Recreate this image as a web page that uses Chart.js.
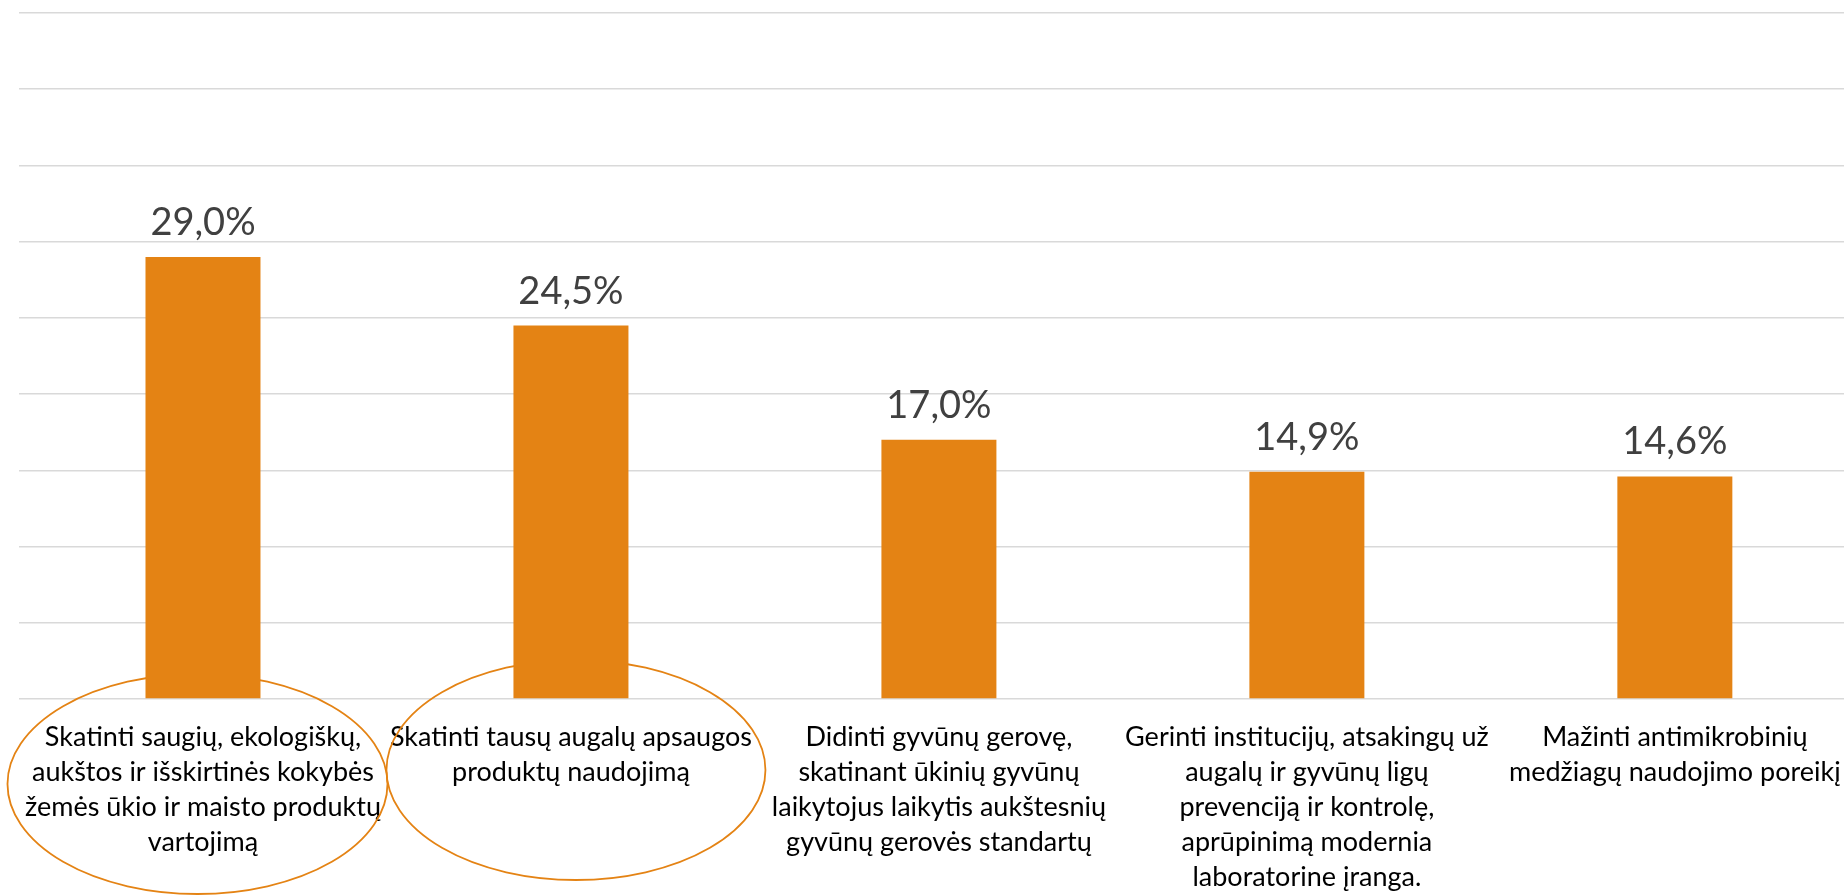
<!DOCTYPE html>
<html>
<head>
<meta charset="utf-8">
<script src="https://cdn.jsdelivr.net/npm/chart.js@4/dist/chart.umd.min.js"></script>
<style>
  html, body { margin: 0; padding: 0; background: #ffffff; overflow: hidden; }
  #wrap { width: 1862px; height: 895px; position: relative; }
</style>
</head>
<body>
<div id="wrap"><canvas id="c"></canvas></div>
<script>
const categories = [
  ["Skatinti saugių, ekologiškų,", "aukštos ir išskirtinės kokybės", "žemės ūkio ir maisto produktų", "vartojimą"],
  ["Skatinti tausų augalų apsaugos", "produktų naudojimą"],
  ["Didinti gyvūnų gerovę,", "skatinant ūkinių gyvūnų", "laikytojus laikytis aukštesnių", "gyvūnų gerovės standartų"],
  ["Gerinti institucijų, atsakingų už", "augalų ir gyvūnų ligų", "prevenciją ir kontrolę,", "aprūpinimą modernia", "laboratorine įranga."],
  ["Mažinti antimikrobinių", "medžiagų naudojimo poreikį"]
];
const values = [29.0, 24.5, 17.0, 14.9, 14.6];
const highlighted = [0, 1];

const ORANGE = '#E48314';

const valueLabels = {
  id: 'valueLabels',
  afterDatasetsDraw(chart) {
    const ctx = chart.ctx;
    const meta = chart.getDatasetMeta(0);
    ctx.save();
    ctx.font = '38px Lato';
    ctx.fillStyle = '#404040';
    ctx.textAlign = 'center';
    ctx.textBaseline = 'alphabetic';
    meta.data.forEach((bar, i) => {
      const txt = values[i].toFixed(1).replace('.', ',') + '%';
      ctx.fillText(txt, bar.x, bar.y - 22);
    });
    ctx.restore();
  }
};

const ellipses = {
  id: 'ellipses',
  beforeDatasetsDraw(chart) {
    const ctx = chart.ctx;
    const xs = chart.scales.x;
    const bottom = chart.chartArea.bottom;
    const shapes = [
      { dx: -5.5, dy: 85, rx: 190, ry: 110 },
      { dx: 5, dy: 71, rx: 189.5, ry: 110 }
    ];
    ctx.save();
    ctx.strokeStyle = ORANGE;
    ctx.lineWidth = 1.8;
    highlighted.forEach((idx, k) => {
      const s = shapes[k];
      const cx = xs.getPixelForValue(idx) + s.dx;
      ctx.beginPath();
      ctx.ellipse(cx, bottom + s.dy, s.rx, s.ry, 0, 0, Math.PI * 2);
      ctx.stroke();
    });
    ctx.restore();
  }
};

new Chart(document.getElementById('c'), {
  type: 'bar',
  data: {
    labels: categories,
    datasets: [{
      data: values,
      backgroundColor: ORANGE,
      borderWidth: 0,
      barPercentage: 0.3125,
      categoryPercentage: 1.0
    }]
  },
  options: {
    responsive: true,
    maintainAspectRatio: false,
    animation: false,
    events: [],
    layout: { padding: { left: 19, right: 3, top: 13, bottom: 0 } },
    plugins: {
      legend: { display: false },
      tooltip: { enabled: false },
      title: { display: false }
    },
    scales: {
      x: {
        grid: { display: false, drawTicks: false },
        border: { display: false },
        afterFit(scale) { scale.height = 196; },
        ticks: {
          autoSkip: false,
          maxRotation: 0,
          minRotation: 0,
          padding: 21,
          color: '#000000',
          font: { family: 'Lato', size: 27, lineHeight: '35px' }
        }
      },
      y: {
        min: 0,
        max: 45,
        afterFit(scale) { scale.width = 0; },
        ticks: { stepSize: 5, display: false },
        grid: { color: '#D9D9D9', lineWidth: 1.5, drawTicks: false },
        border: { display: false }
      }
    }
  },
  plugins: [ellipses, valueLabels]
});
</script>
</body>
</html>
